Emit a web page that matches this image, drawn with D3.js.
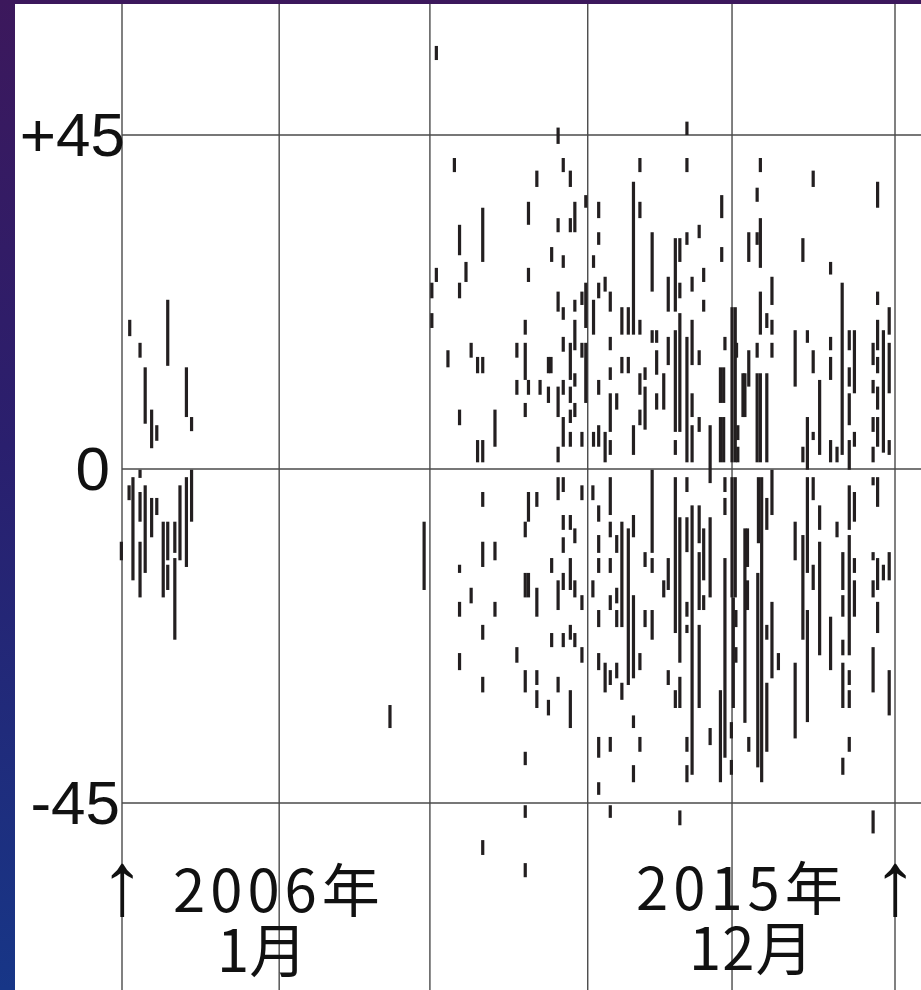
<!DOCTYPE html>
<html>
<head>
<meta charset="utf-8">
<script src="https://cdn.jsdelivr.net/npm/d3@7/dist/d3.min.js"></script>
<style>
	html, body { margin: 0; padding: 0; }
	body { width: 921px; height: 990px; overflow: hidden; }
</style>
</head>
<body>
<svg id="chart"></svg>
<script>

// y ticks and their labels
var yTicks = [45, 0, -45];
var yTickLabels = ['+45', '0', '-45'];

// vertical grid lines, months counted from Jan 2006
var gridMonths = [0, 24.4, 47.8, 72.3, 94.7, 120];

// the two marked ends of the period
var startMonth = 0;
var endMonth = 120;
var startLabel = ['2006年', '1月'];
var endLabel = ['2015年', '12月'];

// bars above zero: [month, top, bottom]
var upperBars = [
	[1.2, 20.1, 17.9], [2.8, 17.0, 15.0], [3.6, 13.7, 6.1], [4.6, 8.0, 2.8], [5.4, 5.9, 3.8],
	[7.1, 22.8, 13.9], [10.0, 13.7, 7.0], [10.8, 7.0, 5.1],
	[48.8, 57.0, 55.1],
	[48.1, 25.1, 23.0], [48.1, 21.0, 19.0], [48.8, 27.1, 25.2],
	[50.6, 16.0, 13.7],
	[51.6, 41.9, 40.0],
	[52.4, 32.9, 28.8], [52.4, 25.1, 23.0], [52.4, 8.0, 5.9],
	[53.4, 27.9, 25.2],
	[54.2, 17.0, 15.0],
	[55.2, 15.1, 12.9], [55.2, 3.9, 0.9],
	[56.0, 35.2, 27.9], [56.0, 15.1, 12.9], [56.0, 3.9, 0.9],
	[57.9, 8.0, 3.0],
	[61.3, 17.0, 15.0], [61.3, 12.0, 10.0],
	[62.6, 20.1, 18.1], [62.6, 17.0, 12.0], [62.6, 8.9, 7.0],
	[63.1, 36.0, 32.9], [63.1, 27.1, 25.2], [63.1, 12.0, 10.0],
	[64.4, 40.2, 38.0],
	[64.9, 12.0, 10.0],
	[66.2, 15.1, 12.9], [66.6, 15.1, 12.9], [66.2, 11.1, 8.9],
	[66.7, 29.9, 27.9],
	[67.7, 46.0, 43.8], [67.7, 33.8, 31.9], [67.7, 23.9, 21.2], [67.7, 11.1, 7.0], [67.7, 3.0, 0.9],
	[68.5, 41.9, 40.0], [68.5, 28.8, 27.1], [68.5, 21.8, 20.1], [68.5, 17.8, 15.8], [68.5, 12.0, 10.0], [68.5, 7.0, 3.0],
	[69.6, 40.2, 38.0], [69.6, 33.8, 31.9], [69.6, 17.0, 12.0], [69.6, 11.1, 8.9], [69.6, 8.0, 6.2], [69.6, 5.0, 3.0],
	[70.3, 36.0, 31.9], [70.3, 22.8, 21.2], [70.3, 20.1, 16.0], [70.3, 12.9, 11.1], [70.3, 8.9, 7.0],
	[71.4, 23.9, 22.1], [71.4, 17.0, 15.0], [71.4, 5.0, 3.0],
	[72.0, 36.9, 35.2], [72.0, 25.1, 19.0], [72.0, 17.0, 8.9],
	[73.2, 28.8, 27.1], [73.2, 22.8, 18.1], [73.2, 5.0, 3.0],
	[74.0, 36.0, 33.8], [74.0, 31.9, 30.2], [74.0, 25.1, 23.0], [74.0, 12.0, 10.0], [74.0, 5.9, 3.0],
	[75.0, 25.9, 23.9], [75.0, 5.0, 0.9],
	[75.8, 23.9, 21.2], [75.8, 17.8, 16.0], [75.8, 13.7, 12.0], [75.8, 10.2, 5.0], [75.8, 3.9, 1.9],
	[76.8, 10.2, 8.0],
	[77.6, 21.8, 18.1], [77.6, 15.1, 12.9],
	[78.6, 21.8, 18.1], [78.6, 15.1, 12.9],
	[79.4, 38.7, 18.1], [79.4, 5.9, 1.9],
	[80.4, 41.9, 40.0], [80.4, 36.0, 33.8], [80.4, 20.1, 18.1], [80.4, 12.9, 10.0], [80.4, 8.0, 5.9],
	[81.2, 13.7, 12.0], [81.2, 11.1, 5.3],
	[82.3, 31.9, 23.9], [82.3, 18.7, 17.0],
	[83.0, 18.7, 17.0], [83.0, 16.0, 12.7], [83.0, 10.2, 8.0],
	[84.1, 12.9, 8.0],
	[84.8, 25.9, 21.2], [84.8, 17.8, 14.0],
	[85.9, 31.1, 21.2], [85.9, 18.7, 5.0], [85.9, 3.9, 1.9],
	[86.6, 31.1, 27.9], [86.6, 25.1, 23.0], [86.6, 21.0, 5.0],
	[87.7, 46.8, 45.0], [87.7, 41.9, 40.0], [87.7, 31.9, 30.2], [87.7, 17.8, 0.9],
	[88.5, 25.9, 23.9], [88.5, 20.1, 14.0], [88.5, 10.2, 7.0], [88.5, 5.9, 0.9],
	[89.6, 32.9, 31.1], [89.6, 16.0, 14.0], [89.6, 7.0, 5.0],
	[90.3, 27.1, 25.2], [90.3, 22.8, 21.2],
	[91.3, 5.9, -1.9],
	[93.1, 36.9, 33.8], [93.1, 29.9, 27.9],
	[93.6, 17.8, 16.0],
	[92.9, 13.7, 8.9], [93.4, 13.7, 8.9],
	[92.9, 7.0, 0.9], [93.4, 7.0, 0.9],
	[94.7, 21.8, 0.9], [95.2, 21.8, 0.9],
	[95.4, 17.0, 15.0], [95.6, 5.9, 3.9], [95.6, 3.0, 0.9],
	[96.4, 12.9, 7.0], [96.7, 12.9, 7.0],
	[97.3, 31.9, 27.9], [97.3, 16.0, 11.1],
	[98.6, 37.9, 36.0], [98.6, 31.9, 30.2], [98.6, 17.0, 15.0],
	[99.1, 41.9, 40.0], [99.1, 33.8, 27.1], [99.1, 23.9, 18.1],
	[98.6, 12.9, 0.9], [99.1, 12.9, 0.9],
	[100.1, 21.0, 19.0], [100.1, 12.9, 0.9],
	[100.9, 25.9, 22.1], [100.9, 20.1, 18.1], [100.9, 17.0, 15.0],
	[104.5, 18.7, 11.1],
	[105.7, 31.1, 27.9], [105.7, 3.0, 0.9],
	[106.4, 18.7, 17.0], [106.4, 7.0, -0.1],
	[107.3, 40.2, 38.0], [107.3, 16.0, 12.9], [107.3, 5.0, 3.9],
	[108.3, 12.0, 1.9],
	[110.0, 27.9, 26.2], [110.0, 17.8, 16.0], [110.0, 15.1, 12.0], [110.0, 3.9, 0.9],
	[111.0, 3.0, 0.9],
	[111.8, 25.1, 1.9],
	[112.9, 18.7, 16.0], [112.9, 13.7, 11.1], [112.9, 10.2, 5.9], [112.9, 3.9, -0.1],
	[113.7, 18.7, 10.2], [113.7, 5.0, 3.0],
	[116.6, 17.0, 14.0], [116.6, 12.0, 10.2], [116.6, 7.0, 5.0], [116.6, 3.0, 0.9],
	[117.3, 38.7, 35.2], [117.3, 23.9, 22.1], [117.3, 20.1, 16.0], [117.3, 15.1, 12.9], [117.3, 11.1, 8.0], [117.3, 7.0, 3.0],
	[118.2, 18.7, 2.2],
	[119.1, 21.8, 18.1], [119.1, 17.0, 10.2], [119.1, 3.9, 1.9]
];

// bars below zero: [month, top, bottom]
var lowerBars = [
	[-0.1, -9.8, -12.3], [1.1, -2.2, -4.2], [1.7, -1.1, -15.0],
	[2.8, -0.1, -1.2], [2.8, -3.1, -7.1], [2.8, -9.8, -17.3],
	[3.6, -2.2, -14.0], [4.6, -3.9, -9.2], [5.4, -3.9, -6.2], [6.4, -7.1, -17.3],
	[7.1, -7.1, -12.3], [7.1, -12.9, -16.3],
	[8.2, -7.1, -11.3], [8.2, -12.0, -23.0],
	[9.0, -2.2, -12.3], [10.0, -1.1, -13.2], [10.8, -0.1, -7.1],
	[41.6, -31.8, -34.9],
	[46.9, -7.1, -16.3],
	[52.4, -12.9, -14.0], [52.4, -17.9, -19.9], [52.4, -24.8, -27.1],
	[54.2, -16.0, -18.1],
	[56.0, -3.1, -5.1], [56.0, -9.8, -13.2], [56.0, -21.0, -23.0], [56.0, -28.0, -30.1], [56.0, -50.0, -52.0],
	[57.9, -9.8, -12.3], [57.9, -17.9, -19.9],
	[61.3, -24.0, -26.1],
	[62.6, -7.1, -9.2], [62.6, -14.0, -17.3], [62.6, -27.1, -30.1], [62.6, -38.1, -39.9], [62.6, -45.3, -47.0], [62.6, -53.1, -55.0],
	[63.1, -3.1, -7.1], [63.1, -14.0, -17.3],
	[64.4, -3.1, -5.1], [64.4, -16.0, -19.9], [64.4, -27.1, -29.1], [64.4, -29.8, -32.2],
	[66.2, -31.1, -33.2],
	[66.7, -12.0, -14.0], [66.7, -22.1, -24.0],
	[67.7, -1.1, -4.2], [67.7, -15.0, -19.0], [67.7, -28.0, -30.1],
	[68.5, -1.1, -3.1], [68.5, -6.2, -8.2], [68.5, -9.2, -11.3], [68.5, -14.0, -16.3], [68.5, -22.1, -24.0],
	[69.6, -6.2, -8.2], [69.6, -12.0, -16.3], [69.6, -21.0, -23.0], [69.6, -29.8, -34.9],
	[70.3, -8.0, -10.0], [70.3, -15.0, -17.3], [70.3, -22.1, -24.0],
	[71.4, -2.2, -4.2], [71.4, -17.0, -19.0], [71.4, -24.0, -26.1],
	[73.1, -2.2, -4.2], [73.1, -15.0, -17.3],
	[74.0, -4.9, -7.1], [74.0, -8.9, -11.3], [74.0, -12.0, -14.0], [74.0, -19.0, -21.3], [74.0, -24.8, -27.1], [74.0, -36.1, -38.9], [74.0, -42.2, -43.9],
	[75.0, -26.1, -30.1],
	[75.8, -1.1, -6.2], [75.8, -7.1, -9.2], [75.8, -12.0, -14.0], [75.8, -17.0, -19.0], [75.8, -27.1, -29.1], [75.8, -36.1, -38.1], [75.8, -45.3, -47.0],
	[76.8, -8.9, -11.3], [76.8, -16.0, -18.1], [76.8, -19.0, -21.3], [76.8, -26.1, -28.2],
	[77.6, -7.1, -21.3], [77.6, -28.8, -31.1],
	[78.6, -8.0, -29.1],
	[79.4, -6.2, -9.2], [79.4, -17.0, -28.2], [79.4, -33.2, -34.9], [79.4, -39.9, -42.2],
	[80.4, -24.8, -27.1], [80.4, -36.1, -38.1],
	[81.2, -11.2, -13.2], [81.2, -19.0, -21.3],
	[82.3, -0.1, -11.3], [82.3, -12.0, -14.0], [82.3, -19.0, -23.0],
	[84.1, -15.0, -17.3],
	[84.8, -12.0, -16.3], [84.8, -27.1, -29.1],
	[85.9, -1.1, -22.1], [85.9, -29.8, -32.2],
	[86.6, -6.5, -26.1], [86.6, -28.0, -32.2], [86.6, -46.0, -48.0],
	[87.7, -1.1, -3.1], [87.7, -6.5, -11.2], [87.7, -17.9, -19.9], [87.7, -21.0, -22.1], [87.7, -36.1, -38.1], [87.7, -39.9, -42.2],
	[88.5, -4.9, -41.2],
	[89.6, -4.9, -10.0], [89.6, -11.2, -19.0], [89.6, -21.0, -32.2],
	[90.3, -8.0, -15.0], [90.3, -17.0, -19.0],
	[91.3, -6.5, -17.3], [91.3, -34.9, -37.2],
	[93.6, -1.1, -3.1], [93.6, -3.9, -6.2], [93.6, -12.0, -38.9],
	[92.9, -29.8, -42.2],
	[94.7, -1.1, -17.3], [95.2, -1.1, -17.3],
	[94.9, -17.3, -32.2], [95.3, -19.0, -21.3], [95.3, -24.0, -26.1],
	[94.6, -34.1, -36.3], [94.6, -39.2, -41.2],
	[96.7, -8.0, -34.2], [97.1, -8.0, -13.2], [97.1, -15.0, -19.0],
	[97.3, -36.1, -38.1],
	[98.8, -1.1, -10.0], [99.3, -1.1, -42.2],
	[98.7, -14.0, -40.2],
	[100.1, -3.9, -8.2], [100.1, -21.0, -23.0], [100.1, -28.8, -38.1],
	[100.9, -0.1, -6.2], [100.9, -17.9, -28.2],
	[101.9, -24.8, -27.1],
	[104.5, -7.1, -12.3], [104.5, -26.1, -36.3],
	[105.7, -8.9, -23.0],
	[106.4, -1.1, -14.0], [106.4, -19.0, -34.1],
	[107.3, -1.1, -4.2], [107.3, -12.9, -16.3],
	[108.3, -4.9, -8.2], [108.3, -9.8, -25.1],
	[110.0, -19.9, -27.1],
	[111.0, -7.1, -9.2],
	[111.9, -11.2, -16.3], [111.9, -17.0, -19.9], [111.9, -23.0, -25.1], [111.9, -26.1, -32.2], [111.9, -38.9, -41.2],
	[112.9, -2.2, -8.2], [112.9, -8.9, -25.1], [112.9, -27.1, -29.1], [112.9, -29.8, -32.2], [112.9, -36.1, -38.1],
	[113.7, -3.1, -7.1], [113.7, -12.0, -14.0], [113.7, -15.0, -19.9],
	[116.6, -1.1, -2.2], [116.6, -11.2, -12.3], [116.6, -15.0, -17.3], [116.6, -24.0, -30.1], [116.6, -46.0, -49.1],
	[117.3, -1.1, -5.1], [117.3, -12.0, -16.3], [117.3, -17.9, -22.1],
	[118.2, -12.9, -15.0],
	[119.1, -11.2, -15.0], [119.1, -27.1, -33.2]
];

var width = 921;
var height = 990;

// white sheet inside the dark frame
var sheet = {left: 15, top: 4};

var xScale = d3.scaleLinear()
	.domain([startMonth, endMonth])
	.range([122, 895]);

var yScale = d3.scaleLinear()
	.domain([-45, 45])
	.range([803, 135]);

var svg = d3.select('#chart')
	.attr('width', width)
	.attr('height', height)
	.style('display', 'block');

// background gradient (purple to blue)
var grad = svg.append('defs').append('linearGradient')
	.attr('id', 'bg')
	.attr('x1', 0).attr('y1', 0).attr('x2', 0).attr('y2', 1);
grad.append('stop').attr('offset', '0%').attr('stop-color', '#3c185c');
grad.append('stop').attr('offset', '45%').attr('stop-color', '#2a1f6e');
grad.append('stop').attr('offset', '100%').attr('stop-color', '#173687');

svg.append('rect')
	.attr('width', width).attr('height', height)
	.attr('fill', 'url(#bg)');

svg.append('rect')
	.attr('x', sheet.left).attr('y', sheet.top)
	.attr('width', width - sheet.left).attr('height', height - sheet.top)
	.attr('fill', '#fff');

// grid
var grid = svg.append('g')
	.attr('stroke', '#4a4a4a')
	.attr('stroke-width', 1.4);

grid.selectAll('line.v')
	.data(gridMonths)
	.join('line')
	.attr('class', 'v')
	.attr('x1', function(d) { return xScale(d); })
	.attr('x2', function(d) { return xScale(d); })
	.attr('y1', sheet.top).attr('y2', height);

grid.selectAll('line.h')
	.data(yTicks)
	.join('line')
	.attr('class', 'h')
	.attr('x1', xScale(startMonth)).attr('x2', width)
	.attr('y1', function(d) { return yScale(d); })
	.attr('y2', function(d) { return yScale(d); });

// bars
var barWidth = 3.2;
svg.append('g')
	.attr('fill', '#231f20')
	.selectAll('rect')
	.data(upperBars.concat(lowerBars))
	.join('rect')
	.attr('x', function(d) { return xScale(d[0]) - barWidth / 2; })
	.attr('y', function(d) { return yScale(d[1]); })
	.attr('width', barWidth)
	.attr('height', function(d) { return yScale(d[2]) - yScale(d[1]); });

// y tick labels
var yLabelDx = [1, -14, -4];
svg.append('g')
	.selectAll('text')
	.data(yTicks)
	.join('text')
	.attr('x', function(d, i) { return xScale(startMonth) + 2 + yLabelDx[i]; })
	.attr('y', function(d) { return yScale(d) + 21; })
	.attr('text-anchor', 'end')
	.style('font-family', '"Liberation Sans", Arial, sans-serif')
	.style('font-size', '62px')
	.attr('fill', '#111')
	.text(function(d, i) { return yTickLabels[i]; });

// period labels under the chart
var cjk = '"Noto Sans CJK JP", "Noto Sans CJK SC", sans-serif';
var labels = svg.append('g')
	.attr('fill', '#111')
	.style('font-family', cjk)
	.style('font-size', '58px');

labels.selectAll('text.arrow')
	.data([startMonth, endMonth])
	.join('text')
	.attr('class', 'arrow')
	.attr('x', function(d) { return xScale(d); })
	.attr('y', 914)
	.attr('text-anchor', 'middle')
	.style('font-family', '"Liberation Sans", Arial, sans-serif')
	.style('font-size', '90px')
	.text('↑');

// year on the first line, month on the second, in one text block each
var startText = labels.append('text');
startText.append('tspan').attr('x', 173).attr('y', 912).style('letter-spacing', '5px').text(startLabel[0]);
startText.append('tspan').attr('x', 217).attr('y', 972).text(startLabel[1]);

var endText = labels.append('text');
endText.append('tspan').attr('x', 636).attr('y', 910).style('letter-spacing', '5px').text(endLabel[0]);
endText.append('tspan').attr('x', 689).attr('y', 970).style('letter-spacing', '1px').text(endLabel[1]);

</script>
</body>
</html>
